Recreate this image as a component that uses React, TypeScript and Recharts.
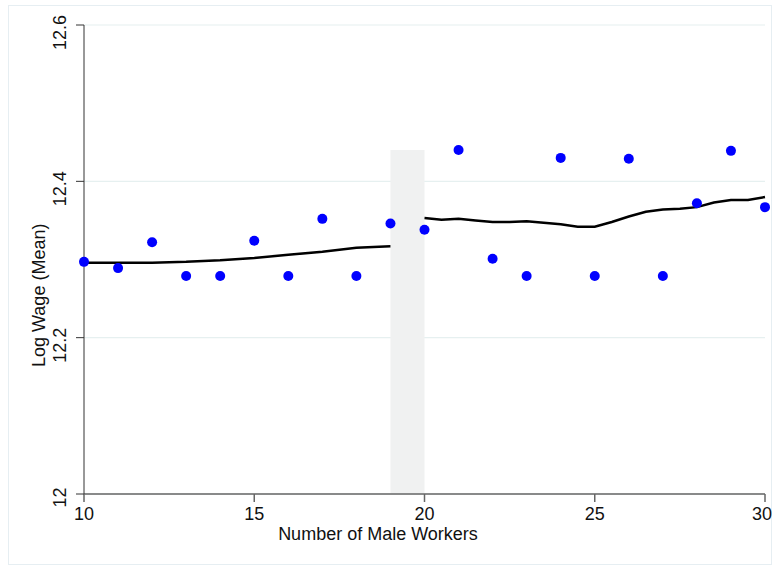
import { ComposedChart, Scatter, XAxis, YAxis, CartesianGrid, ReferenceArea, Label } from "recharts";

const workers = [10, 11, 12, 13, 14, 15, 16, 17, 18, 19, 20, 21, 22, 23, 24, 25, 26, 27, 28, 29, 30];
const wageMeans = [
  12.297, 12.289, 12.322, 12.279, 12.279, 12.324, 12.279, 12.352, 12.279, 12.346, 12.338,
  12.44, 12.301, 12.279, 12.43, 12.279, 12.429, 12.279, 12.372, 12.439, 12.367,
];

const fitLeftX = [10, 11, 12, 13, 14, 15, 16, 17, 18, 19];
const fitLeftY = [12.296, 12.296, 12.296, 12.297, 12.299, 12.302, 12.306, 12.31, 12.315, 12.317];

const fitRightX = [20, 20.5, 21, 21.5, 22, 22.5, 23, 23.5, 24, 24.5, 25, 25.5, 26, 26.5, 27, 27.5, 28, 28.5, 29, 29.5, 30];
const fitRightY = [
  12.353, 12.351, 12.352, 12.35, 12.348, 12.348, 12.349, 12.347, 12.345, 12.342, 12.342,
  12.348, 12.355, 12.361, 12.364, 12.365, 12.367, 12.373, 12.376, 12.376, 12.38,
];

const xTicks = [10, 15, 20, 25, 30];
const yTicks = [12, 12.2, 12.4, 12.6];

const points = workers.map((x, i) => ({ x, y: wageMeans[i] }));
const fitLeft = fitLeftX.map((x, i) => ({ x, y: fitLeftY[i] }));
const fitRight = fitRightX.map((x, i) => ({ x, y: fitRightY[i] }));

const FONT = "'Liberation Sans', Arial, sans-serif";

function YTick({ y, payload }: any) {
  const label = payload.value === 12 ? "12" : payload.value.toFixed(1);
  const cy = y + (label.length > 2 ? 7.5 : 3.5);
  return (
    <text x={66} y={cy} transform={`rotate(-90 66 ${cy})`} textAnchor="middle" fontSize={18} fontFamily={FONT} fill="#111">
      {label}
    </text>
  );
}

function XTick({ x, payload }: any) {
  // keep the last label inside the frame, as in the reference
  const last = payload.value === xTicks[xTicks.length - 1];
  return (
    <text x={last ? 772 : x} y={520} textAnchor={last ? "end" : "middle"} fontSize={18} fontFamily={FONT} fill="#111">
      {payload.value}
    </text>
  );
}

const noDot = () => <g />;
const blueDot = (p: any) => <circle cx={p.cx} cy={p.cy} r={5} fill="#0000ff" />;

export default function App() {
  return (
    <div style={{ position: "absolute", left: 0, top: 0, width: 773, height: 568, background: "#fff" }}>
      <div
        style={{ position: "absolute", left: 8, top: 5, width: 764, height: 560, border: "1px solid #e6eef2", boxSizing: "border-box" }}
      />
      <div style={{ position: "absolute", left: 0, top: 0 }}>
        <ComposedChart width={773} height={568} margin={{ top: 25, right: 8, bottom: 24, left: 34 }}>
          <CartesianGrid vertical={false} stroke="#e6f0f0" strokeWidth={1.2} />
          <XAxis
            type="number"
            dataKey="x"
            domain={[10, 30]}
            ticks={xTicks}
            height={50}
            stroke="#666"
            strokeWidth={1.5}
            tickSize={8}
            tick={<XTick />}
            interval={0}
          >
            <Label
              content={() => (
                <text x={378} y={540} textAnchor="middle" fontSize={18} fontFamily={FONT} fill="#111">
                  Number of Male Workers
                </text>
              )}
            />
          </XAxis>
          <YAxis
            type="number"
            dataKey="y"
            domain={[12, 12.6]}
            ticks={yTicks}
            width={50}
            stroke="#333"
            tickSize={8}
            tick={<YTick />}
            interval={0}
          >
            <Label
              content={() => (
                <text x={45} y={367} transform="rotate(-90 45 367)" textAnchor="start" fontSize={18} fontFamily={FONT} fill="#111">
                  Log Wage (Mean)
                </text>
              )}
            />
          </YAxis>
          <ReferenceArea x1={19} x2={20} y1={12} y2={12.44} fill="#f0f1f1" fillOpacity={1} stroke="none" />
          <Scatter data={fitLeft} line={{ stroke: "#000", strokeWidth: 2.5 }} shape={noDot} isAnimationActive={false} />
          <Scatter data={fitRight} line={{ stroke: "#000", strokeWidth: 2.5 }} shape={noDot} isAnimationActive={false} />
          <Scatter data={points} shape={blueDot} isAnimationActive={false} />
        </ComposedChart>
      </div>
    </div>
  );
}
